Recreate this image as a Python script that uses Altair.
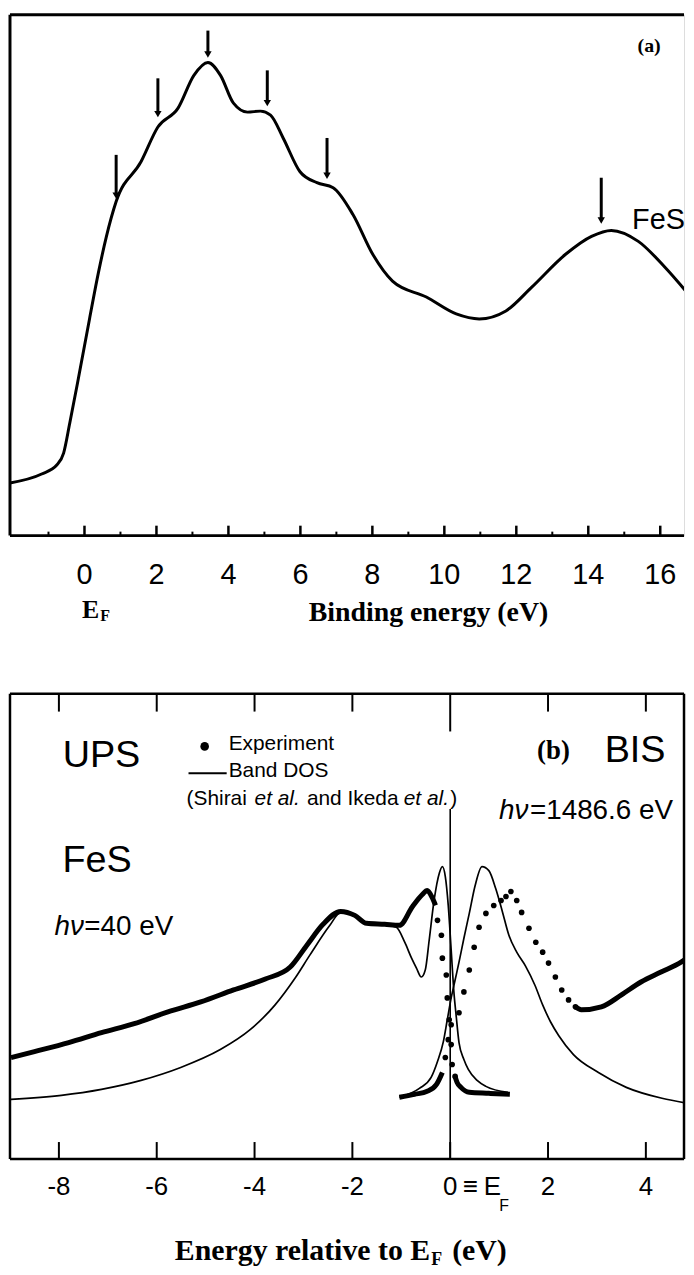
import altair as alt
import pandas as pd

SANS = "Liberation Sans"
NARROW = "Liberation Sans Narrow, Liberation Sans"
SERIF = "Liberation Serif"

W = 678
A_H = 524
B_H = 468

# ---------------- Panel (a): XPS valence band of FeS ----------------
a_energy = [-2.07, -1.19, -0.77, -0.58, -0.41, -0.17, 0.14, 0.39, 0.61, 0.88, 1.57, 2.04,
            2.60, 3.04, 3.43, 3.78, 4.14, 4.53, 4.89, 5.17, 5.52, 5.99, 6.46, 6.91, 7.46,
            8.01, 8.56, 9.50, 10.33, 10.97, 11.71, 12.43, 13.37, 14.09, 14.64, 15.39, 16.13, 16.85]
a_intensity = [53, 62, 71, 83, 113, 158, 218, 265, 301, 336, 376, 411,
               430, 463, 476, 463, 435, 426, 427, 423, 400, 366, 355, 350, 323,
               283, 256, 240, 223, 218, 226, 250, 283, 301, 307, 296, 270, 240]
a_arrow_x = [0.88, 2.04, 3.43, 5.08, 6.74, 14.36]
a_arrow_top = [383, 460, 508, 468, 400, 360]
a_arrow_tip = [338, 420, 480, 431, 358, 313]
a_major_ticks = [0, 2, 4, 6, 8, 10, 12, 14, 16]
a_tick_labels = ["0", "2", "4", "6", "8", "10", "12", "14", "16"]
a_minor_ticks = [-1, 1, 3, 5, 7, 9, 11, 13, 15]
a_xdomain = [-2.07, 16.66]
a_ydomain = [0, 524]

# text, x, y, font, size, weight, style, align
a_notes = [
    ("(a)", 15.69, 492, SERIF, 20, "bold", "normal", "center"),
    ("FeS", 15.95, 317, NARROW, 29, "normal", "normal", "center"),
    ("E", 0.17, -75, SERIF, 26, "bold", "normal", "center"),
    ("F", 0.57, -81, SERIF, 16, "bold", "normal", "center"),
    ("Binding energy (eV)", 9.56, -78, SERIF, 28, "bold", "normal", "center"),
]

# ---------------- Panel (b): UPS / BIS of FeS ----------------
ups_exp_x = [-8.98, -8.50, -7.80, -7.13, -6.46, -5.77, -5.10, -4.43, -3.78, -3.27, -2.93, -2.60,
             -2.24, -1.95, -1.71, -1.34, -1.04, -0.77, -0.57, -0.47, -0.37, -0.30]
ups_exp_y = [102, 108, 117, 127, 136, 148, 158, 170, 181, 193, 215, 236,
             249, 245, 237, 236, 235, 254, 266, 270, 263, 255]
ups_dot_x = [-0.26, -0.18, -0.16, -0.08, -0.06, -0.02, 0.02, 0.04, 0.10]
ups_dot_y = [240, 225, 202, 185, 162, 140, 115, 95, 83]
ups_tail_x = [0.10, 0.14, 0.22, 0.39, 0.79, 1.22]
ups_tail_y = [83, 77, 72, 67, 66, 65]

bis_head_x = [-1.04, -0.73, -0.47, -0.28, -0.16]
bis_head_y = [62, 65, 68, 75, 87]
bis_dot_x = [-0.10, -0.04, 0.02, 0.18, 0.28, 0.39, 0.49, 0.59, 0.73, 0.89, 1.04, 1.14, 1.24,
             1.36, 1.46, 1.61, 1.75, 1.89, 2.01, 2.15, 2.28, 2.42, 2.56]
bis_dot_y = [102, 120, 135, 147, 168, 190, 213, 233, 247, 255, 260, 264, 269,
             260, 248, 232, 218, 208, 197, 183, 170, 160, 153]
bis_exp_x = [2.56, 2.68, 3.09, 3.50, 3.90, 4.31, 4.72, 4.90]
bis_exp_y = [153, 150, 153, 165, 178, 188, 198, 204]

dos_ups_x = [-8.98, -7.95, -7.13, -6.32, -5.51, -4.70, -4.09, -3.58, -3.17, -2.87, -2.46, -2.24,
             -1.95, -1.71, -1.34, -1.10, -0.93, -0.79, -0.69, -0.59, -0.51, -0.43, -0.33, -0.22,
             -0.16, -0.10, -0.04, 0.02, 0.08, 0.12, 0.18, 0.28, 0.37, 0.55, 0.73, 1.18]
dos_ups_y = [60, 64, 70, 79, 92, 110, 130, 155, 182, 205, 235, 248,
             245, 237, 236, 233, 218, 202, 192, 183, 190, 220, 260, 288,
             294, 284, 255, 210, 165, 145, 117, 100, 90, 79, 73, 67]
dos_bis_x = [-1.04, -0.63, -0.39, -0.26, -0.14, -0.06, 0.02, 0.10, 0.18, 0.28, 0.39, 0.51,
             0.65, 0.79, 0.93, 1.06, 1.20, 1.36, 1.54, 1.73, 1.89, 2.05, 2.22, 2.52,
             3.03, 3.60, 4.33, 4.86]
dos_bis_y = [62, 71, 82, 98, 118, 140, 162, 180, 198, 222, 247, 275,
             294, 290, 272, 250, 225, 208, 194, 175, 155, 138, 124, 105,
             87, 72, 61, 56]

ef_line_x = [0]
ef_line_top = [352]
b_ticks = [-8, -6, -4, -2, 0, 2, 4]
b_tick_labels = ["-8", "-6", "-4", "-2", "0", "2", "4"]
b_xdomain = [-9.0, 4.78]
b_ydomain = [0, 468]

legend_dot_x = [-5.02]
legend_dot_y = [415]
legend_line_x = [-5.35]
legend_line_x2 = [-4.57]
legend_line_y = [388]

b_notes = [
    ("UPS", -7.13, 405, SANS, 38, "normal", "normal", "center"),
    ("Experiment", -4.53, 417, SANS, 21, "normal", "normal", "left"),
    ("Band DOS", -4.53, 390, SANS, 21, "normal", "normal", "left"),
    ("(Shirai", -5.39, 362, SANS, 21, "normal", "normal", "left"),
    ("et al.", -4.00, 362, SANS, 21, "normal", "italic", "left"),
    ("and Ikeda", -2.93, 362, SANS, 21, "normal", "normal", "left"),
    ("et al.", -0.95, 362, SANS, 21, "normal", "italic", "left"),
    (")", 0.00, 362, SANS, 21, "normal", "normal", "left"),
    ("(b)", 2.11, 410, SERIF, 27, "bold", "normal", "center"),
    ("BIS", 3.78, 410, SANS, 38, "normal", "normal", "center"),
    ("hν", 1.00, 350, SANS, 28, "normal", "italic", "left"),
    ("=1486.6 eV", 1.63, 350, SANS, 28, "normal", "normal", "left"),
    ("FeS", -7.22, 300, SANS, 38, "normal", "normal", "center"),
    ("hν", -8.09, 233, SANS, 28, "normal", "italic", "left"),
    ("=40 eV", -7.48, 233, SANS, 28, "normal", "normal", "left"),
    ("≡", 0.41, -28, SANS, 26, "normal", "normal", "center"),
    ("E", 0.86, -28, NARROW, 26, "normal", "normal", "center"),
    ("F", 1.10, -47, NARROW, 16, "normal", "normal", "center"),
    ("Energy relative to E", -0.41, -93, SERIF, 30, "bold", "normal", "right"),
    ("F", -0.39, -102, SERIF, 18, "bold", "normal", "left"),
    ("(eV)", 0.04, -93, SERIF, 30, "bold", "normal", "left"),
]


def scales(xd, yd):
    return (alt.Scale(domain=xd, nice=False, zero=False),
            alt.Scale(domain=yd, nice=False, zero=False))


def notes_layers(notes, xs, ys):
    out = []
    for (t, x, y, font, size, weight, style, align) in notes:
        df = pd.DataFrame({"x": [x], "y": [y], "t": [t]})
        out.append(
            alt.Chart(df).mark_text(font=font, fontSize=size, fontWeight=weight,
                                    fontStyle=style, align=align, baseline="middle",
                                    color="black")
            .encode(x=alt.X("x:Q", scale=xs, axis=None),
                    y=alt.Y("y:Q", scale=ys, axis=None),
                    text="t:N")
        )
    return out


def tick_labels(values, labels, xs, ypix, size):
    df = pd.DataFrame({"x": values, "t": labels})
    return alt.Chart(df).mark_text(font=NARROW, fontSize=size, align="center",
                                   baseline="middle", color="black").encode(
        x=alt.X("x:Q", scale=xs, axis=None), y=alt.value(ypix), text="t:N")


# ---------- build panel (a) ----------
xa, ya = scales(a_xdomain, a_ydomain)
df_a = pd.DataFrame({"x": a_energy, "y": a_intensity})
a_curve = alt.Chart(df_a).mark_line(color="black", strokeWidth=3, interpolate="monotone",
                                    clip=True).encode(
    x=alt.X("x:Q", scale=xa, axis=None),
    y=alt.Y("y:Q", scale=ya, axis=None),
)
df_arr = pd.DataFrame({"x": a_arrow_x, "top": a_arrow_top, "tip": a_arrow_tip})
a_shafts = alt.Chart(df_arr).transform_calculate(end="datum.tip + 5").mark_rule(
    color="black", strokeWidth=3).encode(
    x=alt.X("x:Q", scale=xa, axis=None),
    y=alt.Y("top:Q", scale=ya, axis=None),
    y2="end:Q")
a_heads = alt.Chart(df_arr).transform_calculate(hy="datum.tip + 4").mark_point(
    shape="triangle-down", filled=True, size=55, color="black", opacity=1).encode(
    x=alt.X("x:Q", scale=xa, axis=None),
    y=alt.Y("hy:Q", scale=ya, axis=None))
a_major = alt.Chart(pd.DataFrame({"x": a_major_ticks})).mark_rule(
    color="black", strokeWidth=2.5).encode(
    x=alt.X("x:Q", scale=xa, axis=None), y=alt.value(A_H), y2=alt.value(A_H - 10))
a_minor = alt.Chart(pd.DataFrame({"x": a_minor_ticks})).mark_rule(
    color="black", strokeWidth=2).encode(
    x=alt.X("x:Q", scale=xa, axis=None), y=alt.value(A_H), y2=alt.value(A_H - 4))
a_labels = tick_labels(a_major_ticks, a_tick_labels, xa, A_H + 40, 29)
a_frame_df = pd.DataFrame({"k": [0]})
a_left = alt.Chart(a_frame_df).mark_rule(color="black", strokeWidth=3).encode(
    x=alt.value(0), y=alt.value(0), y2=alt.value(A_H))
a_top = alt.Chart(a_frame_df).mark_rule(color="black", strokeWidth=3).encode(
    x=alt.value(0), x2=alt.value(W), y=alt.value(0))
a_bottom = alt.Chart(a_frame_df).mark_rule(color="black", strokeWidth=3).encode(
    x=alt.value(0), x2=alt.value(W), y=alt.value(A_H))

panel_a = alt.layer(a_curve, a_shafts, a_heads, a_major, a_minor, a_labels,
                    a_left, a_top, a_bottom,
                    *notes_layers(a_notes, xa, ya)).properties(width=W, height=A_H)

# ---------- build panel (b) ----------
xb, yb = scales(b_xdomain, b_ydomain)


def thick(xv, yv):
    return alt.Chart(pd.DataFrame({"x": xv, "y": yv})).mark_line(
        color="black", strokeWidth=5, interpolate="monotone", clip=True,
        strokeJoin="round").encode(x=alt.X("x:Q", scale=xb, axis=None),
                                   y=alt.Y("y:Q", scale=yb, axis=None))


def dots(xv, yv, size=32):
    return alt.Chart(pd.DataFrame({"x": xv, "y": yv})).mark_circle(
        color="black", size=size, opacity=1).encode(
        x=alt.X("x:Q", scale=xb, axis=None), y=alt.Y("y:Q", scale=yb, axis=None))


def thin(xv, yv):
    return alt.Chart(pd.DataFrame({"x": xv, "y": yv})).mark_line(
        color="black", strokeWidth=1.7, interpolate="monotone", clip=True).encode(
        x=alt.X("x:Q", scale=xb, axis=None), y=alt.Y("y:Q", scale=yb, axis=None))


b_ups_exp = thick(ups_exp_x, ups_exp_y)
b_ups_dots = dots(ups_dot_x, ups_dot_y)
b_ups_tail = thick(ups_tail_x, ups_tail_y)
b_bis_head = thick(bis_head_x, bis_head_y)
b_bis_dots = dots(bis_dot_x, bis_dot_y)
b_bis_exp = thick(bis_exp_x, bis_exp_y)
b_dos_ups = thin(dos_ups_x, dos_ups_y)
b_dos_bis = thin(dos_bis_x, dos_bis_y)

b_ef = alt.Chart(pd.DataFrame({"x": ef_line_x, "y": ef_line_top})).transform_calculate(
    y0="0").mark_rule(color="black", strokeWidth=1.6).encode(
    x=alt.X("x:Q", scale=xb, axis=None), y=alt.Y("y:Q", scale=yb, axis=None), y2="y0:Q")

tick_df = pd.DataFrame({"x": b_ticks})
b_top_ticks = alt.layer(
    alt.Chart(pd.DataFrame({"x": [t for t in b_ticks if t != 0]})).mark_rule(
        color="black", strokeWidth=2).encode(
        x=alt.X("x:Q", scale=xb, axis=None), y=alt.value(0), y2=alt.value(18)),
    alt.Chart(pd.DataFrame({"x": [0]})).mark_rule(color="black", strokeWidth=2).encode(
        x=alt.X("x:Q", scale=xb, axis=None), y=alt.value(0), y2=alt.value(38)),
)
b_bot_ticks = alt.Chart(tick_df).mark_rule(color="black", strokeWidth=2).encode(
    x=alt.X("x:Q", scale=xb, axis=None), y=alt.value(B_H), y2=alt.value(B_H - 17))
b_labels = tick_labels(b_ticks, b_tick_labels, xb, B_H + 28, 26)

fr = pd.DataFrame({"k": [0]})
b_frame = alt.layer(
    alt.Chart(fr).mark_rule(color="black", strokeWidth=2.5).encode(
        x=alt.value(0), y=alt.value(0), y2=alt.value(B_H)),
    alt.Chart(fr).mark_rule(color="black", strokeWidth=2.5).encode(
        x=alt.value(W), y=alt.value(0), y2=alt.value(B_H)),
    alt.Chart(fr).mark_rule(color="black", strokeWidth=2.5).encode(
        x=alt.value(0), x2=alt.value(W), y=alt.value(0)),
    alt.Chart(fr).mark_rule(color="black", strokeWidth=2.5).encode(
        x=alt.value(0), x2=alt.value(W), y=alt.value(B_H)),
)

b_leg_dot = dots(legend_dot_x, legend_dot_y, size=75)
b_leg_line = alt.Chart(pd.DataFrame({"x": legend_line_x, "x2": legend_line_x2,
                                     "y": legend_line_y})).mark_rule(
    color="black", strokeWidth=2).encode(
    x=alt.X("x:Q", scale=xb, axis=None), x2="x2:Q", y=alt.Y("y:Q", scale=yb, axis=None))

panel_b = alt.layer(b_ups_exp, b_ups_dots, b_ups_tail, b_bis_head, b_bis_dots, b_bis_exp,
                    b_dos_ups, b_dos_bis, b_ef, b_top_ticks, b_bot_ticks, b_labels, b_frame,
                    b_leg_dot, b_leg_line,
                    *notes_layers(b_notes, xb, yb)).properties(width=W, height=B_H)

chart = alt.vconcat(panel_a, panel_b, spacing=159, bounds="flush").properties(
    padding={"left": 0, "top": 1, "right": 0, "bottom": 0}
).configure_view(stroke=None).configure(background="white")

chart.save("out.html", embed_options={"renderer": "svg", "actions": False})
